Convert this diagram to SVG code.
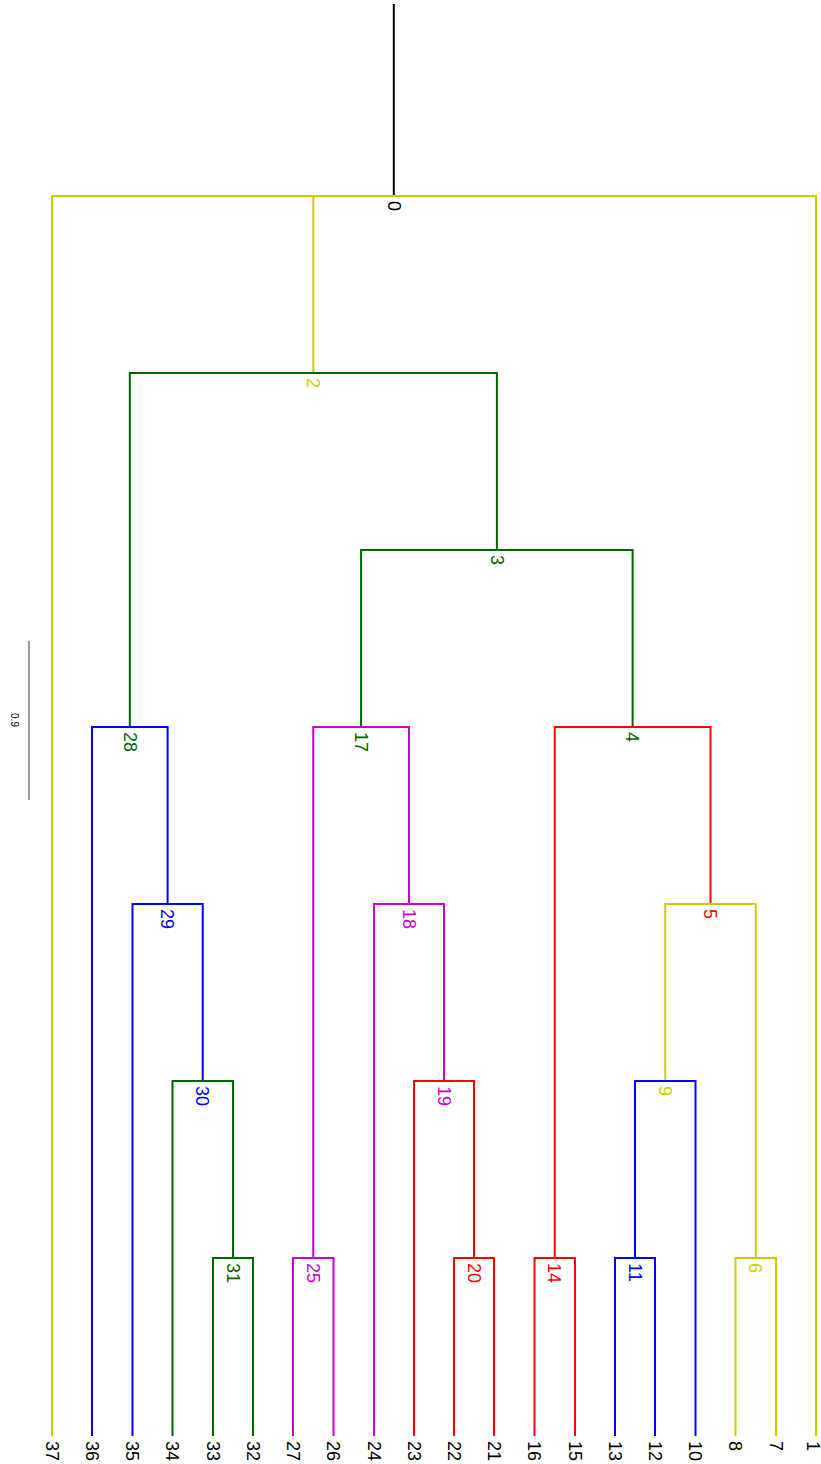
<svg xmlns="http://www.w3.org/2000/svg" width="821" height="1464" viewBox="0 0 821 1464">
<style>
.e{fill:none;stroke-width:2;stroke-linecap:square}
.y{stroke:#cccc00}.g{stroke:#006400}.b{stroke:#0000ff}.r{stroke:#ff0000}.m{stroke:#cc00cc}.k{stroke:#000000}
text{font-family:"Liberation Sans",Arial,sans-serif;font-size:18px}
.ty{fill:#cccc00}.tg{fill:#006400}.tb{fill:#0000ff}.tr{fill:#ff0000}.tm{fill:#cc00cc}.tk{fill:#000000}
</style>
<rect width="821" height="1464" fill="#ffffff"/>
<g id="connectors">
<path class="e k" d="M393.8,5 V196"/>
<path class="e y" d="M52,1435 V196 H816 V1435 M313.3,196 V373"/>
<path class="e g" d="M129.8,727 V373 H496.9 V550"/>
<path class="e g" d="M361.1,727 V550 H632.6 V727"/>
<path class="e b" d="M92,1435 V727 H167.6 V904"/>
<path class="e b" d="M132.5,1435 V904 H202.75 V1081"/>
<path class="e g" d="M172.5,1435 V1081 H233 V1258"/>
<path class="e g" d="M213,1435 V1258 H253 V1435"/>
<path class="e m" d="M313.25,1258 V727 H409 V904"/>
<path class="e m" d="M293,1435 V1258 H333.5 V1435"/>
<path class="e m" d="M374,1435 V904 H444 V1081"/>
<path class="e r" d="M414,1435 V1081 H474 V1258"/>
<path class="e r" d="M454,1435 V1258 H494 V1435"/>
<path class="e r" d="M554.75,1258 V727 H710.5 V904"/>
<path class="e r" d="M534.5,1435 V1258 H575 V1435"/>
<path class="e y" d="M665.25,1081 V904 H755.75 V1258"/>
<path class="e b" d="M635,1258 V1081 H695.5 V1435"/>
<path class="e b" d="M615,1435 V1258 H655 V1435"/>
<path class="e y" d="M735.5,1435 V1258 H776 V1435"/>
</g>
<g id="scale">
<line x1="29" y1="641" x2="29" y2="800" stroke="#555555" stroke-width="1.2"/>
<text x="14" y="720" transform="rotate(90 14 720)" text-anchor="middle" dy="0.35em" style="font-size:10px" class="tk">0.9</text>
</g>
<g id="n0"><text class="tk" x="393.8" y="201" dy="0.35em" transform="rotate(90 393.8 201)">0</text></g>
<g id="n2"><text class="ty" x="313.3" y="378" dy="0.35em" transform="rotate(90 313.3 378)">2</text></g>
<g id="n3"><text class="tg" x="496.9" y="555" dy="0.35em" transform="rotate(90 496.9 555)">3</text></g>
<g id="n28"><text class="tg" x="129.8" y="732" dy="0.35em" transform="rotate(90 129.8 732)">28</text></g>
<g id="n29"><text class="tb" x="167.6" y="909" dy="0.35em" transform="rotate(90 167.6 909)">29</text></g>
<g id="n30"><text class="tb" x="202.75" y="1086" dy="0.35em" transform="rotate(90 202.75 1086)">30</text></g>
<g id="n31"><text class="tg" x="233" y="1263" dy="0.35em" transform="rotate(90 233 1263)">31</text></g>
<g id="n17"><text class="tg" x="361.1" y="732" dy="0.35em" transform="rotate(90 361.1 732)">17</text></g>
<g id="n25"><text class="tm" x="313.25" y="1263" dy="0.35em" transform="rotate(90 313.25 1263)">25</text></g>
<g id="n18"><text class="tm" x="409" y="909" dy="0.35em" transform="rotate(90 409 909)">18</text></g>
<g id="n19"><text class="tm" x="444" y="1086" dy="0.35em" transform="rotate(90 444 1086)">19</text></g>
<g id="n20"><text class="tr" x="474" y="1263" dy="0.35em" transform="rotate(90 474 1263)">20</text></g>
<g id="n4"><text class="tg" x="632.6" y="732" dy="0.35em" transform="rotate(90 632.6 732)">4</text></g>
<g id="n14"><text class="tr" x="554.75" y="1263" dy="0.35em" transform="rotate(90 554.75 1263)">14</text></g>
<g id="n5"><text class="tr" x="710.5" y="909" dy="0.35em" transform="rotate(90 710.5 909)">5</text></g>
<g id="n9"><text class="ty" x="665.25" y="1086" dy="0.35em" transform="rotate(90 665.25 1086)">9</text></g>
<g id="n11"><text class="tb" x="635" y="1263" dy="0.35em" transform="rotate(90 635 1263)">11</text></g>
<g id="n6"><text class="ty" x="755.75" y="1263" dy="0.35em" transform="rotate(90 755.75 1263)">6</text></g>
<g id="n37"><text class="tk" x="52" y="1441" dy="0.35em" transform="rotate(90 52 1441)">37</text></g>
<g id="n36"><text class="tk" x="92" y="1441" dy="0.35em" transform="rotate(90 92 1441)">36</text></g>
<g id="n35"><text class="tk" x="132.5" y="1441" dy="0.35em" transform="rotate(90 132.5 1441)">35</text></g>
<g id="n34"><text class="tk" x="172.5" y="1441" dy="0.35em" transform="rotate(90 172.5 1441)">34</text></g>
<g id="n33"><text class="tk" x="213" y="1441" dy="0.35em" transform="rotate(90 213 1441)">33</text></g>
<g id="n32"><text class="tk" x="253" y="1441" dy="0.35em" transform="rotate(90 253 1441)">32</text></g>
<g id="n27"><text class="tk" x="293" y="1441" dy="0.35em" transform="rotate(90 293 1441)">27</text></g>
<g id="n26"><text class="tk" x="333.5" y="1441" dy="0.35em" transform="rotate(90 333.5 1441)">26</text></g>
<g id="n24"><text class="tk" x="374" y="1441" dy="0.35em" transform="rotate(90 374 1441)">24</text></g>
<g id="n23"><text class="tk" x="414" y="1441" dy="0.35em" transform="rotate(90 414 1441)">23</text></g>
<g id="n22"><text class="tk" x="454" y="1441" dy="0.35em" transform="rotate(90 454 1441)">22</text></g>
<g id="n21"><text class="tk" x="494" y="1441" dy="0.35em" transform="rotate(90 494 1441)">21</text></g>
<g id="n16"><text class="tk" x="534.5" y="1441" dy="0.35em" transform="rotate(90 534.5 1441)">16</text></g>
<g id="n15"><text class="tk" x="575" y="1441" dy="0.35em" transform="rotate(90 575 1441)">15</text></g>
<g id="n13"><text class="tk" x="615" y="1441" dy="0.35em" transform="rotate(90 615 1441)">13</text></g>
<g id="n12"><text class="tk" x="655" y="1441" dy="0.35em" transform="rotate(90 655 1441)">12</text></g>
<g id="n10"><text class="tk" x="695.5" y="1441" dy="0.35em" transform="rotate(90 695.5 1441)">10</text></g>
<g id="n8"><text class="tk" x="735.5" y="1441" dy="0.35em" transform="rotate(90 735.5 1441)">8</text></g>
<g id="n7"><text class="tk" x="776" y="1441" dy="0.35em" transform="rotate(90 776 1441)">7</text></g>
<g id="n1"><text class="tk" x="813" y="1441" dy="0.35em" transform="rotate(90 813 1441)">1</text></g>
</svg>
